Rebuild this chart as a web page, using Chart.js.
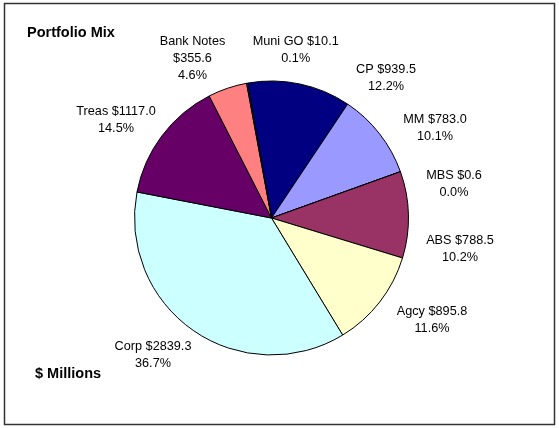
<!DOCTYPE html>
<html>
<head>
<meta charset="utf-8">
<script src="https://cdn.jsdelivr.net/npm/chart.js@4.4.0/dist/chart.umd.min.js"></script>
<style>
html, body { margin: 0; padding: 0; background: #fff; }
#wrap { position: relative; width: 559px; height: 428px; }
</style>
</head>
<body>
<div id="wrap"><canvas id="myChart" width="559" height="428"></canvas></div>
<script>
// Portfolio holdings, $ millions (clockwise from the top)
var categories = ["CP", "MM", "MBS", "ABS", "Agcy", "Corp", "Treas", "Bank Notes", "Muni GO"]
var values = [939.5, 783.0, 0.6, 788.5, 895.8, 2839.3, 1117.0, 355.6, 10.1]
var sliceColors = ["#000080", "#9999FF", "#CCCCFF", "#993366", "#FFFFCC", "#CCFFFF", "#660066", "#FF8080", "#0066CC"]

// Where each label sits, offset from the pie centre (px)
var labelOffsets = [[114.5, -140], [163.5, -90.3], [182.5, -34], [188.5, 31], [160.5, 101.5],
                    [-118.5, 137], [-155.5, -98], [-79, -159.7], [24.2, -168.5]]
var wrapName = [false, false, false, false, false, false, false, true, false]

// Formatting
var fontFamily = '"Liberation Sans", Arial, Helvetica, sans-serif'
var labelFont = '12.7px ' + fontFamily
var headFont = 'bold 14.5px ' + fontFamily
var lineHeight = 17

// Frame + headings
const frame = {
    id: 'frame',
    beforeDraw(chart) {
        const ctx = chart.ctx
        ctx.save()
        ctx.fillStyle = '#fff'
        ctx.fillRect(0, 0, chart.width, chart.height)
        ctx.strokeStyle = '#333'
        ctx.lineWidth = 1.5
        ctx.strokeRect(4.5, 3.5, 550, 421)
        ctx.restore()
    },
    afterDraw(chart) {
        const ctx = chart.ctx
        ctx.save()
        ctx.font = headFont
        ctx.fillStyle = '#000'
        ctx.textAlign = 'left'
        ctx.textBaseline = 'middle'
        ctx.fillText('Portfolio Mix', 27, 32.5)
        ctx.fillText('$ Millions', 35, 373.5)
        ctx.restore()
    }
}

// Data labels next to each slice
const sliceLabels = {
    id: 'sliceLabels',
    afterDatasetsDraw(chart) {
        const ctx = chart.ctx
        const meta = chart.getDatasetMeta(0)
        const total = values.reduce((a, b) => a + b, 0)
        ctx.save()
        ctx.font = labelFont
        ctx.fillStyle = '#000'
        ctx.textAlign = 'center'
        ctx.textBaseline = 'middle'
        meta.data.forEach((arc, i) => {
            const pct = (values[i] / total * 100).toFixed(1) + '%'
            const money = '$' + values[i].toFixed(1)
            const lines = wrapName[i] ? [categories[i], money, pct] : [categories[i] + ' ' + money, pct]
            const cx = arc.x + labelOffsets[i][0]
            const cy = arc.y + labelOffsets[i][1]
            const top = cy - (lines.length - 1) * lineHeight / 2
            lines.forEach((t, j) => ctx.fillText(t, cx, top + j * lineHeight))
        })
        ctx.restore()
    }
}

const ctx = document.getElementById('myChart').getContext('2d')
const myChart = new Chart(ctx, {
    type: 'pie',
    data: {
        labels: categories,
        datasets: [{
            data: values,
            backgroundColor: sliceColors,
            borderColor: '#000',
            borderWidth: 1,
            hoverBorderWidth: 1,
            hoverOffset: 0
        }]
    },
    options: {
        responsive: false,
        animation: false,
        rotation: -10,
        layout: {
            padding: { left: 134, right: 150, top: 80.5, bottom: 72.5 }
        },
        plugins: {
            legend: { display: false },
            tooltip: { enabled: false }
        }
    },
    plugins: [frame, sliceLabels]
})
</script>
</body>
</html>
